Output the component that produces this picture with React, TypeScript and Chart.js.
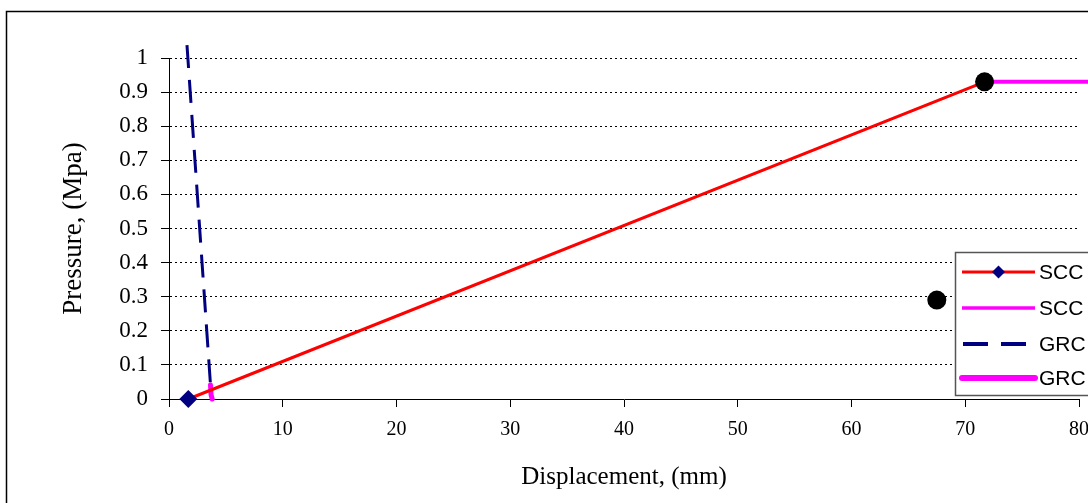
import React, { useEffect, useRef } from "react";
import { Chart, registerables } from "chart.js";

Chart.register(...registerables);

// ---- data ----
const xTickValues = [0, 10, 20, 30, 40, 50, 60, 70, 80];
const yTickValues = [0, 0.1, 0.2, 0.3, 0.4, 0.5, 0.6, 0.7, 0.8, 0.9, 1];

const sccX = [1.7, 71.7];
const sccY = [0, 0.93];

const sccPlateauX = [71.7, 82];
const sccPlateauY = [0.93, 0.93];

const grcX = [1.58, 3.65];
const grcY = [1.038, 0.041];

const grcTailX = [3.65, 3.7, 3.8];
const grcTailY = [0.041, 0.012, 0.0];

const markerX = [71.7, 67.5];
const markerY = [0.93, 0.29];

const legendLabels = ["SCC", "SCC", "GRC", "GRC"];

const xTitle = "Displacement, (mm)";
const yTitle = "Pressure, (Mpa)";

const toPts = (xs: number[], ys: number[]) => xs.map((x, i) => ({ x, y: ys[i] }));

const SERIF = "'Times New Roman', 'Liberation Serif', serif";
const SANS = "Arial, 'Liberation Sans', sans-serif";
const NAVY = "#000080";
const MAGENTA = "#FF00FF";
const RED = "#FF0000";

const framePlugin = {
  id: "frame",
  beforeDraw(chart: any) {
    const ctx = chart.ctx;
    ctx.save();
    ctx.fillStyle = "#fff";
    ctx.fillRect(0, 0, chart.width, chart.height);
    ctx.strokeStyle = "#000";
    ctx.lineWidth = 1.5;
    ctx.strokeRect(6.5, 11.5, 2000, 2000);
    ctx.restore();
  },
  afterDraw(chart: any) {
    const ctx = chart.ctx;
    ctx.save();
    const left = 955.5;
    const top = 252.5;
    const bottom = 395.5;
    ctx.fillStyle = "#fff";
    ctx.fillRect(left, top, 300, bottom - top);
    ctx.strokeStyle = "#555";
    ctx.lineWidth = 1.5;
    ctx.strokeRect(left, top, 300, bottom - top);

    const rows = [272, 308, 344, 378];
    const x0 = 962;
    const x1 = 1035;
    // row 1: red line with navy diamond
    ctx.setLineDash([]);
    ctx.strokeStyle = RED;
    ctx.lineWidth = 3;
    ctx.beginPath();
    ctx.moveTo(x0, rows[0]);
    ctx.lineTo(x1, rows[0]);
    ctx.stroke();
    const cx = (x0 + x1) / 2;
    ctx.fillStyle = NAVY;
    ctx.beginPath();
    ctx.moveTo(cx - 6.5, rows[0]);
    ctx.lineTo(cx, rows[0] - 6.5);
    ctx.lineTo(cx + 6.5, rows[0]);
    ctx.lineTo(cx, rows[0] + 6.5);
    ctx.closePath();
    ctx.fill();
    // row 2: magenta thin
    ctx.strokeStyle = MAGENTA;
    ctx.lineWidth = 3.5;
    ctx.beginPath();
    ctx.moveTo(x0, rows[1]);
    ctx.lineTo(x1, rows[1]);
    ctx.stroke();
    // row 3: navy dashed
    ctx.strokeStyle = NAVY;
    ctx.lineWidth = 4;
    ctx.beginPath();
    ctx.moveTo(963, rows[2]);
    ctx.lineTo(988, rows[2]);
    ctx.moveTo(1001, rows[2]);
    ctx.lineTo(1026, rows[2]);
    ctx.stroke();
    // row 4: magenta thick
    ctx.strokeStyle = MAGENTA;
    ctx.lineWidth = 6;
    ctx.lineCap = "round";
    ctx.beginPath();
    ctx.moveTo(x0, rows[3]);
    ctx.lineTo(x1, rows[3]);
    ctx.stroke();

    ctx.fillStyle = "#000";
    ctx.font = `21px ${SANS}`;
    ctx.textBaseline = "middle";
    ctx.textAlign = "left";
    legendLabels.forEach((t, i) => ctx.fillText(t, 1039, rows[i] + 1));
    ctx.restore();
  },
};

export default function App() {
  const ref = useRef<HTMLCanvasElement | null>(null);

  useEffect(() => {
    if (!ref.current) return;
    const chart = new Chart(ref.current, {
      type: "scatter",
      data: {
        datasets: [
          {
            label: "markers",
            data: toPts(markerX, markerY),
            showLine: false,
            pointRadius: 9.5,
            pointBackgroundColor: "#000",
            pointBorderColor: "#000",
            pointBorderWidth: 0,
            clip: false,
          },
          {
            label: legendLabels[0],
            data: toPts(sccX, sccY),
            showLine: true,
            borderColor: RED,
            borderWidth: 3,
            pointStyle: "rectRot",
            pointRadius: 9,
            pointBackgroundColor: NAVY,
            pointBorderColor: NAVY,
            pointBorderWidth: 0,
            clip: false,
          },
          {
            label: legendLabels[1],
            data: toPts(sccPlateauX, sccPlateauY),
            showLine: true,
            borderColor: MAGENTA,
            borderWidth: 4,
            pointRadius: 0,
            clip: false,
          },
          {
            label: legendLabels[2],
            data: toPts(grcX, grcY),
            showLine: true,
            borderColor: NAVY,
            borderWidth: 3,
            borderDash: [23, 12],
            pointRadius: 0,
            clip: false,
          },
          {
            label: legendLabels[3],
            data: toPts(grcTailX, grcTailY),
            showLine: true,
            borderColor: MAGENTA,
            borderWidth: 5,
            borderCapStyle: "round",
            pointRadius: 0,
            clip: false,
          },
        ] as any,
      },
      options: {
        responsive: false,
        animation: false,
        devicePixelRatio: 1,
        layout: { padding: { left: 0, top: 58, right: 18, bottom: 0 } },
        plugins: {
          legend: { display: false },
          tooltip: { enabled: false },
        },
        scales: {
          x: {
            type: "linear",
            min: 0,
            max: 80,
            afterBuildTicks: (s: any) => {
              s.ticks = xTickValues.map((v) => ({ value: v }));
            },
            afterFit: (s: any) => {
              s.height = 104;
            },
            ticks: {
              color: "#000",
              font: { family: SERIF, size: 20 },
              padding: 11,
              maxRotation: 0,
              autoSkip: false,
              callback: (v: any) => String(v),
            },
            grid: {
              drawOnChartArea: false,
              drawTicks: true,
              tickLength: 8,
              tickColor: "#000",
              tickWidth: 1,
            },
            border: { color: "#000", width: 1 },
            title: {
              display: true,
              text: xTitle,
              color: "#000",
              font: { family: SERIF, size: 25 },
              padding: { top: 0, bottom: 11 },
            },
          },
          y: {
            type: "linear",
            min: 0,
            max: 1,
            afterBuildTicks: (s: any) => {
              s.ticks = yTickValues.map((v) => ({ value: v }));
            },
            afterFit: (s: any) => {
              s.width = 169;
            },
            ticks: {
              color: "#000",
              font: { family: SERIF, size: 23 },
              padding: 13,
              autoSkip: false,
              callback: (v: any) => String(Number(Number(v).toFixed(1))),
            },
            grid: {
              color: "#000",
              lineWidth: 1,
              borderDash: [2, 3],
              tickBorderDash: [],
              tickLength: 8,
              tickColor: "#000",
              tickWidth: 1,
            },
            border: { color: "#000", width: 1, dash: [2, 3] },
            title: {
              display: true,
              text: yTitle,
              color: "#000",
              font: { family: SERIF, size: 27 },
              padding: { top: 58, bottom: 0 },
            },
          },
        },
      } as any,
      plugins: [framePlugin],
    });
    return () => chart.destroy();
  }, []);

  return (
    <div
      style={{
        position: "fixed",
        left: 0,
        top: 0,
        width: 1088,
        height: 503,
        overflow: "hidden",
        background: "#fff",
      }}
    >
      <canvas ref={ref} width={1100} height={503} style={{ display: "block" }} />
    </div>
  );
}
